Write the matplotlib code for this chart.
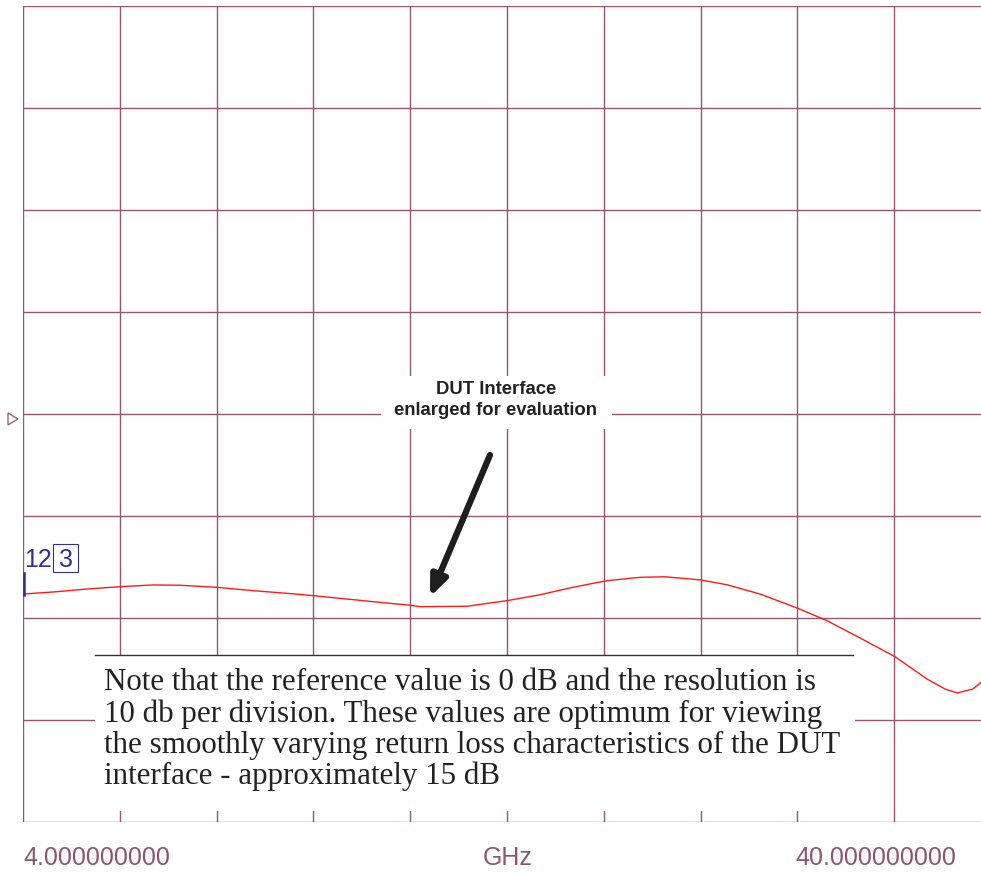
import matplotlib
matplotlib.use("Agg")
import matplotlib.pyplot as plt
from matplotlib.patches import Polygon, Rectangle
import numpy as np

# ---- data ----
freq_ghz = [4.00, 5.12, 6.38, 7.61, 8.83, 9.84, 11.21, 12.55, 13.82, 14.79,
            16.16, 17.02, 18.39, 18.76, 20.51, 22.00, 23.23, 24.45, 25.72,
            26.95, 27.88, 29.21, 30.18, 31.41, 32.82, 33.90, 35.13, 36.43,
            37.62, 38.29, 38.74, 39.33, 39.63]
return_loss_db = [-17.65, -17.45, -17.16, -16.93, -16.76, -16.79, -16.99,
                  -17.32, -17.58, -17.81, -18.17, -18.40, -18.75, -18.89,
                  -18.85, -18.30, -17.72, -16.99, -16.34, -16.01, -15.96,
                  -16.27, -16.74, -17.65, -19.05, -20.26, -21.96, -23.79,
                  -25.98, -26.96, -27.35, -26.96, -26.30]
x_start, x_stop = 4.0, 40.0
ref_db, db_per_div = 0.0, 10.0
start_label = "4.000000000"
stop_label = "40.000000000"
unit_label = "GHz"
annot_label = "DUT Interface\nenlarged for evaluation"
note_text = ("Note that the reference value is 0 dB and the resolution is\n"
             "10 db per division. These values are optimum for viewing\n"
             "the smoothly varying return loss characteristics of the DUT\n"
             "interface - approximately 15 dB")

W, H = 981, 873
GRID = "#955676"
TXT = "#8e5573"
BLUE = "#2e3192"

def fx(px):
    return px / W

def fy(py):
    return 1 - py / H

fig = plt.figure(figsize=(W / 100, H / 100), dpi=100)
ax = fig.add_axes([fx(23), fy(822), 968 / W, 816 / H])
ax.set_xlim(x_start, x_stop)
ax.set_ylim(ref_db - 4 * db_per_div, ref_db + 4 * db_per_div)
ax.set_xticks(np.linspace(x_start, x_stop, 11))
ax.set_yticks(np.arange(-4, 5) * db_per_div + ref_db)
ax.tick_params(length=0, labelleft=False, labelbottom=False)
ax.grid(True, color=GRID, linewidth=1.0)
for s in ax.spines.values():
    s.set_visible(False)
ax.set_axisbelow(True)

ax.plot(freq_ghz, return_loss_db, color="#ff1a1a", linewidth=1.0, zorder=3)

# note box (white, covering grid)
note_box = Rectangle((fx(95), fy(811)), fx(855) - fx(95), fy(655) - fy(811),
                     transform=fig.transFigure, facecolor="white",
                     edgecolor="none", zorder=5)
fig.add_artist(note_box)
fig.add_artist(plt.Line2D([fx(95), fx(853)], [fy(655), fy(655)],
                          transform=fig.transFigure, color="#333333",
                          linewidth=1.0, zorder=6))
fig.text(fx(104), fy(668), note_text, family="Liberation Serif", fontsize=22.3,
         color="#222222", va="top", ha="left", linespacing=1.09, zorder=7)

# annotation
ann_box = Rectangle((fx(381), fy(429)), fx(612) - fx(381), fy(376) - fy(429),
                    transform=fig.transFigure, facecolor="white",
                    edgecolor="none", zorder=5)
fig.add_artist(ann_box)
fig.text(fx(496), fy(400), annot_label, family="Liberation Sans",
         fontweight="bold", fontsize=13.3, color="#222222", ha="center",
         va="center", linespacing=1.35, zorder=7)
ax.annotate("", xy=(fx(430), fy(597)), xytext=(fx(490), fy(455)),
            xycoords="figure fraction", textcoords="figure fraction",
            arrowprops=dict(arrowstyle="-|>,head_length=1.2,head_width=0.5",
                            color="#1e1e1e", lw=4.5, shrinkA=0, shrinkB=0),
            zorder=8)

# axis labels
fig.text(fx(23), fy(858), start_label, family="Liberation Sans", fontsize=18,
         color=TXT, ha="left", va="center")
fig.text(fx(508), fy(858), unit_label, family="Liberation Sans", fontsize=18,
         color=TXT, ha="center", va="center")
fig.text(fx(876), fy(858), stop_label, family="Liberation Sans", fontsize=18,
         color=TXT, ha="center", va="center")

# reference marker triangle
tri = Polygon([[fx(8), fy(413)], [fx(8), fy(425)], [fx(18), fy(419)]],
              closed=True, transform=fig.transFigure, facecolor="none",
              edgecolor=TXT, linewidth=0.9)
fig.add_artist(tri)

# trace markers "12" and boxed "3"
fig.text(fx(24), fy(560), "12", family="Liberation Sans", fontsize=18,
         color=BLUE, ha="left", va="center")
fig.text(fx(65.5), fy(560), "3", family="Liberation Sans", fontsize=18,
         color=BLUE, ha="center", va="center")
fig.add_artist(Rectangle((fx(53), fy(572)), fx(78) - fx(53), fy(544) - fy(572),
                         transform=fig.transFigure, facecolor="none",
                         edgecolor=BLUE, linewidth=0.8))
fig.add_artist(plt.Line2D([fx(23.5), fx(23.5)], [fy(573), fy(595)],
                          transform=fig.transFigure, color=BLUE, linewidth=1.8))

fig.savefig("out.png", dpi=100)
